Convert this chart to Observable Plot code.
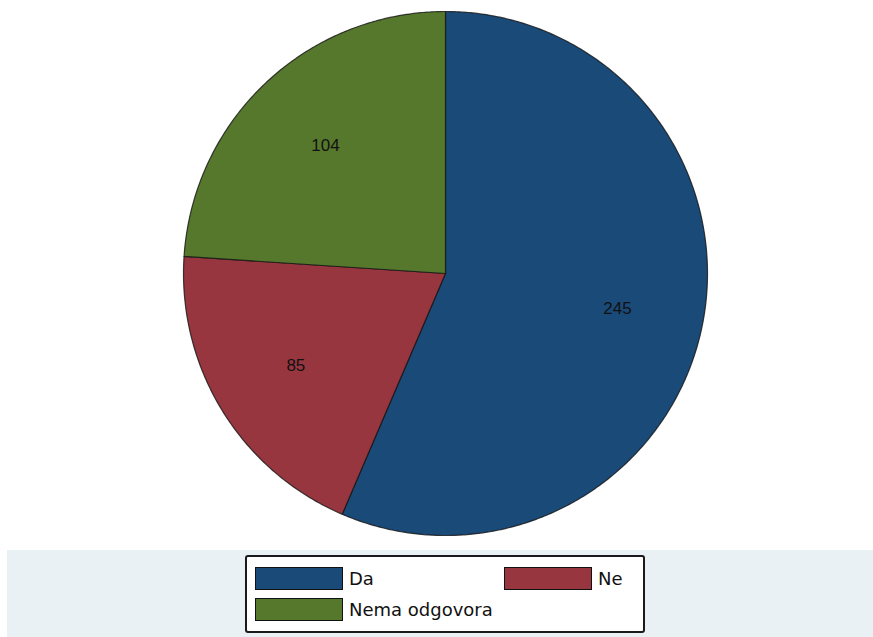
<!DOCTYPE html>
<html>
<head>
<meta charset="utf-8">
<script src="https://cdn.jsdelivr.net/npm/d3@7"></script>
<script src="https://cdn.jsdelivr.net/npm/@observablehq/plot@0.6"></script>
<style>
  html, body { margin: 0; padding: 0; background: #ffffff; }
  #wrap { position: relative; width: 873px; height: 637px; overflow: hidden; }
  #chart { position: absolute; left: 0; top: 0; }
  #band { position: absolute; left: 7px; top: 550px; width: 866px; height: 87px; background: #e9f1f5; }
  #legend { position: absolute; left: 245px; top: 555px; width: 396px; height: 74px; background: #ffffff;
            border: 2px solid #1a1a1a; border-radius: 3px; font-family: "DejaVu Sans", sans-serif; font-size: 18px; color: #111; }
  .item { position: absolute; display: flex; align-items: center; }
  .sw { width: 86px; height: 21px; border: 1px solid #111; margin-right: 6px; }
</style>
</head>
<body>
<div id="wrap">
  <div id="chart"></div>
  <div id="band"></div>
  <div id="legend"></div>
</div>
<script>
const categories = ["Da", "Ne", "Nema odgovora"];
const counts = [245, 85, 104];
const colors = ["#1a4a78", "#983640", "#56782c"];

// Build slice geometry (clockwise from 12 o'clock) in unit-circle data space
const total = d3.sum(counts);
const slices = [];
const labels = [];
let start = 0;
categories.forEach((cat, i) => {
  const sweep = counts[i] / total * 2 * Math.PI;
  const end = start + sweep;
  slices.push({cat, x: 0, y: 0});
  const n = Math.max(2, Math.ceil(sweep / (Math.PI / 360)));
  for (let k = 0; k <= n; k++) {
    const a = start + sweep * k / n;
    slices.push({cat, x: Math.sin(a), y: Math.cos(a)});
  }
  slices.push({cat, x: 0, y: 0});
  const mid = (start + end) / 2;
  labels.push({cat, value: counts[i], x: 0.67 * Math.sin(mid), y: 0.67 * Math.cos(mid)});
  start = end;
});

const plot = Plot.plot({
  width: 873,
  height: 550,
  marginLeft: 183,
  marginRight: 166,
  marginTop: 11,
  marginBottom: 15,
  x: {domain: [-1, 1], axis: null},
  y: {domain: [-1, 1], axis: null},
  color: {domain: categories, range: colors},
  style: {background: "#ffffff"},
  marks: [
    Plot.line(slices, {x: "x", y: "y", z: "cat", fill: "cat", stroke: "#141414", strokeWidth: 1.2, strokeOpacity: 0.8, curve: "linear"}),
    Plot.text(labels, {x: "x", y: "y", text: d => String(d.value), fill: "#111", fontSize: 17, fontFamily: "Liberation Sans, Arial, sans-serif"})
  ]
});
document.getElementById("chart").appendChild(plot);

// Legend
const legend = document.getElementById("legend");
const pos = [
  {left: 8, top: 10},
  {left: 257, top: 10},
  {left: 8, top: 41}
];
categories.forEach((cat, i) => {
  const it = document.createElement("div");
  it.className = "item";
  it.style.left = pos[i].left + "px";
  it.style.top = pos[i].top + "px";
  const sw = document.createElement("div");
  sw.className = "sw";
  sw.style.background = colors[i];
  const tx = document.createElement("span");
  tx.textContent = cat;
  it.appendChild(sw);
  it.appendChild(tx);
  legend.appendChild(it);
});
</script>
</body>
</html>
